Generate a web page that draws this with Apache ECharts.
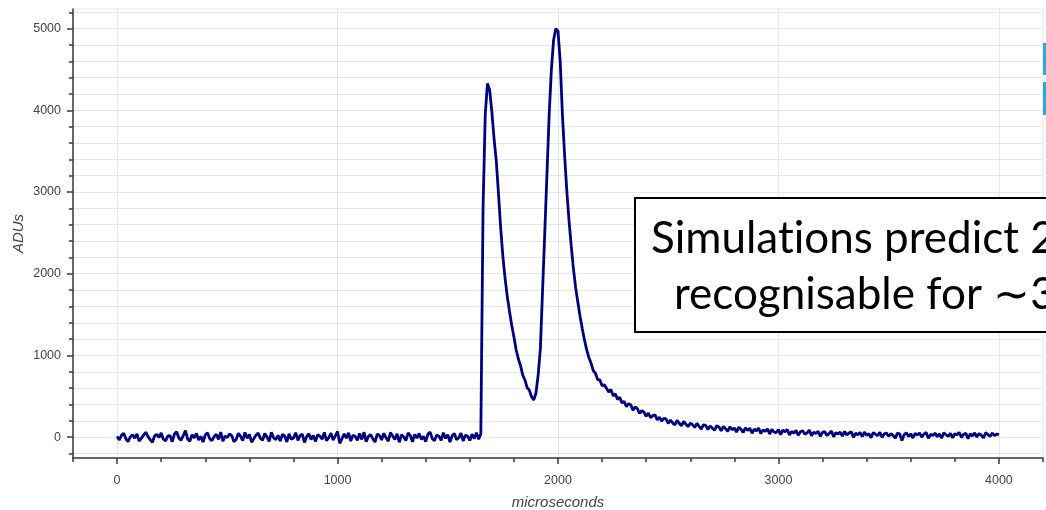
<!DOCTYPE html>
<html>
<head>
<meta charset="utf-8">
<title>ADU trace</title>
<script src="https://cdn.jsdelivr.net/npm/echarts@6/dist/echarts.min.js"></script>
<style>
  html, body { margin: 0; padding: 0; background: #ffffff; }
  #chart { width: 1046px; height: 510px; }
</style>
</head>
<body>
<div id="chart"></div>
<script>
// Digitiser samples: one reading every 10 microseconds, starting at t = 0.
const sampleStartUs = 0;
const sampleStepUs = 10;

// 0 - 1640 us: pedestal before the signal arrives
const baselineAdu = [
  10, -35, 22, 48, -20, -55, 5, 30, -12, 40,
  -48, -15, 25, 60, 8, -30, -62, 15, 35, -5,
  52, -25, -45, 12, 20, -58, 38, 66, -10, -40,
  18, 80, -22, -50, 30, -8, 45, -35, 10, -60,
  28, 55, -18, -42, 5, 36, -28, 62, -50, 14,
  -6, 40, 20, -55, -30, 48, 12, -44, 58, -15,
  33, -62, -20, 25, 50, -12, -38, 45, 2, -52,
  60, -8, -30, 22, -48, 35, 15, -58, 40, -25,
  -10, 55, -40, 18, 38, -65, 8, 42, -30, 20,
  -52, 30, 12, -25, 58, -44, -6, 50, -35, 16,
  70, -75, -20, 40, -12, 52, -48, 25, 8, -38,
  45, -28, 60, -55, 10, 32, -18, -60, 38, 22,
  -35, 48, -8, -50, 56, 15, -30, 42, -62, 28,
  5, -42, 52, 20, -58, 34, -12, 46, -26, 10,
  -55, 38, 62, -20, -45, 28, 10, -38, 54, -15,
  30, -60, 18, 44, -32, -8, 50, -48, 25, 12,
  -40, 36, -18, 55, -25
];

// 1650 - 2200 us: the two pulses
const pulseAdu = [
  40, 2800, 3950, 4330, 4250, 3980, 3650, 3380, 2980, 2560,
  2210, 1940, 1720, 1540, 1370, 1230, 1070, 960, 875, 760,
  700, 605, 575, 495, 455, 540, 760, 1080, 1800, 2500,
  3230, 3950, 4500, 4860, 5000, 4970, 4600, 3950, 3450, 3010,
  2650, 2340, 2060, 1830, 1650, 1480, 1330, 1190, 1070, 975,
  905, 815, 780, 705, 700, 630
];

// 2210 - 4000 us: slow recovery back to the pedestal
const tailAdu = [
  640, 598, 552, 585, 505, 530, 462, 488, 418, 440,
  372, 410, 395, 330, 372, 348, 290, 325, 305, 255,
  295, 240, 262, 275, 212, 246, 198, 230, 225, 168,
  210, 175, 150, 205, 170, 138, 192, 160, 128, 170,
  155, 118, 170, 132, 100, 152, 145, 92, 138, 112,
  84, 140, 125, 78, 132, 104, 70, 128, 90, 112,
  62, 122, 96, 58, 115, 82, 110, 48, 98, 76,
  112, 44, 88, 70, 102, 38, 96, 62, 55, 92,
  30, 88, 64, 95, 26, 70, 48, 84, 22, 66,
  80, 35, 52, 88, 18, 60, 45, 72, 10, 58,
  68, 20, 44, 76, 5, 55, 38, 62, 12, 70,
  28, 50, 66, -2, 48, 30, 58, 8, 62, 22,
  42, -8, 55, 36, 18, 60, -5, 40, 52, 10,
  45, 20, -12, 50, 38, -40, 30, 55, 6, 42,
  -10, 48, 25, 52, 0, 38, 58, -15, 35, 20,
  50, 5, 40, -12, 55, 28, 10, 48, -8, 42,
  30, 58, -5, 35, 46, -18, 40, 15, 52, 2,
  44, 26, -10, 55, 32, 8, 50, 18, 38, 30
];

// Axis ticks
const xMajorTicks = [0, 1000, 2000, 3000, 4000];
const yMajorTicks = [0, 1000, 2000, 3000, 4000, 5000];
const xRange = [-200, 4200];
const yRange = [-255, 5240];
const minorStep = 200;

const xTitle = 'microseconds';
const yTitle = 'ADUs';
// U+200C keeps the "t" and "i" in "Simulations" as separate glyphs
const calloutLines = ['Simulat\u200Cions predict 2', 'recognisable for \u223C3'];

function steps(from, to, step) {
  const out = [];
  for (let v = from; v <= to; v += step) out.push(v);
  return out;
}
const xMinorTicks = steps(-200, 4200, minorStep);
const yMinorTicks = steps(-200, 5200, minorStep);

const samples = baselineAdu.concat(pulseAdu, tailAdu);
const trace = samples.map((v, i) => [sampleStartUs + i * sampleStepUs, v]);

const axisInk = '#3a3a3a';
const labelInk = '#444444';
const gridInk = '#e6e6ee';
const labelFont = 'Liberation Sans, Arial, Helvetica, sans-serif';
const plainNumber = (v) => String(v);

const chart = echarts.init(document.getElementById('chart'), null, { renderer: 'canvas' });

chart.setOption({
  animation: false,
  backgroundColor: '#ffffff',
  grid: {
    left: 73, top: 9, width: 970, height: 449,
    outerBoundsMode: 'none', containLabel: false,
    show: true, borderColor: gridInk, borderWidth: 1, backgroundColor: 'transparent'
  },
  xAxis: [
    {
      type: 'value', min: xRange[0], max: xRange[1],
      name: xTitle, nameLocation: 'middle', nameGap: 37, nameMoveOverlap: false,
      nameTextStyle: { fontFamily: labelFont, fontSize: 15, fontStyle: 'italic', color: labelInk },
      axisLine: { show: true, onZero: false, lineStyle: { color: axisInk, width: 1.5 } },
      axisTick: { show: true, length: 6, customValues: xMajorTicks, lineStyle: { color: axisInk, width: 1.5 } },
      axisLabel: { customValues: xMajorTicks, formatter: plainNumber, margin: 16, fontFamily: labelFont, fontSize: 12.5, color: labelInk },
      splitLine: { show: true, lineStyle: { color: gridInk, width: 1 } }
    },
    {
      type: 'value', min: xRange[0], max: xRange[1], position: 'bottom',
      axisLine: { show: false, onZero: false },
      axisTick: { show: true, length: 4, customValues: xMinorTicks, lineStyle: { color: axisInk, width: 1.5 } },
      axisLabel: { show: false },
      splitLine: { show: false }
    }
  ],
  yAxis: [
    {
      type: 'value', min: yRange[0], max: yRange[1],
      name: yTitle, nameLocation: 'middle', nameGap: 47, nameRotate: 90, nameMoveOverlap: false,
      nameTextStyle: { fontFamily: labelFont, fontSize: 15, fontStyle: 'italic', color: labelInk },
      axisLine: { show: true, onZero: false, lineStyle: { color: axisInk, width: 1.5 } },
      axisTick: { show: true, length: 4, customValues: yMinorTicks, lineStyle: { color: axisInk, width: 1.5 } },
      axisLabel: { customValues: yMajorTicks, formatter: plainNumber, margin: 12, fontFamily: labelFont, fontSize: 12.5, color: labelInk },
      splitLine: { show: true, lineStyle: { color: gridInk, width: 1 } }
    },
    {
      type: 'value', min: yRange[0], max: yRange[1], position: 'left',
      axisLine: { show: false, onZero: false },
      axisTick: { show: true, length: 6, customValues: yMajorTicks, lineStyle: { color: axisInk, width: 1.5 } },
      axisLabel: { show: false },
      splitLine: { show: false }
    }
  ],
  series: [
    {
      type: 'line',
      xAxisIndex: 0, yAxisIndex: 0,
      data: trace,
      showSymbol: false,
      symbol: 'none',
      lineStyle: { color: '#000080', width: 2.8 },
      z: 3
    }
  ],
  graphic: [
    {
      type: 'rect', z: 100,
      shape: { x: 635, y: 198, width: 430, height: 134 },
      style: { fill: '#ffffff', stroke: '#000000', lineWidth: 2 }
    },
    {
      type: 'text', z: 101,
      style: { text: calloutLines[0], x: 651, y: 239, fontFamily: 'Lato', fontSize: 44, fill: '#000000', align: 'left', verticalAlign: 'middle' }
    },
    {
      type: 'text', z: 101,
      style: { text: calloutLines[1], x: 674, y: 295, fontFamily: 'Lato', fontSize: 44, fill: '#000000', align: 'left', verticalAlign: 'middle' }
    },
    {
      type: 'rect', z: 100,
      shape: { x: 1043, y: 43, width: 4, height: 32 },
      style: { fill: '#2aa7dc' }
    },
    {
      type: 'rect', z: 100,
      shape: { x: 1043, y: 82, width: 4, height: 33 },
      style: { fill: '#2aa7dc' }
    }
  ]
});
</script>
</body>
</html>
